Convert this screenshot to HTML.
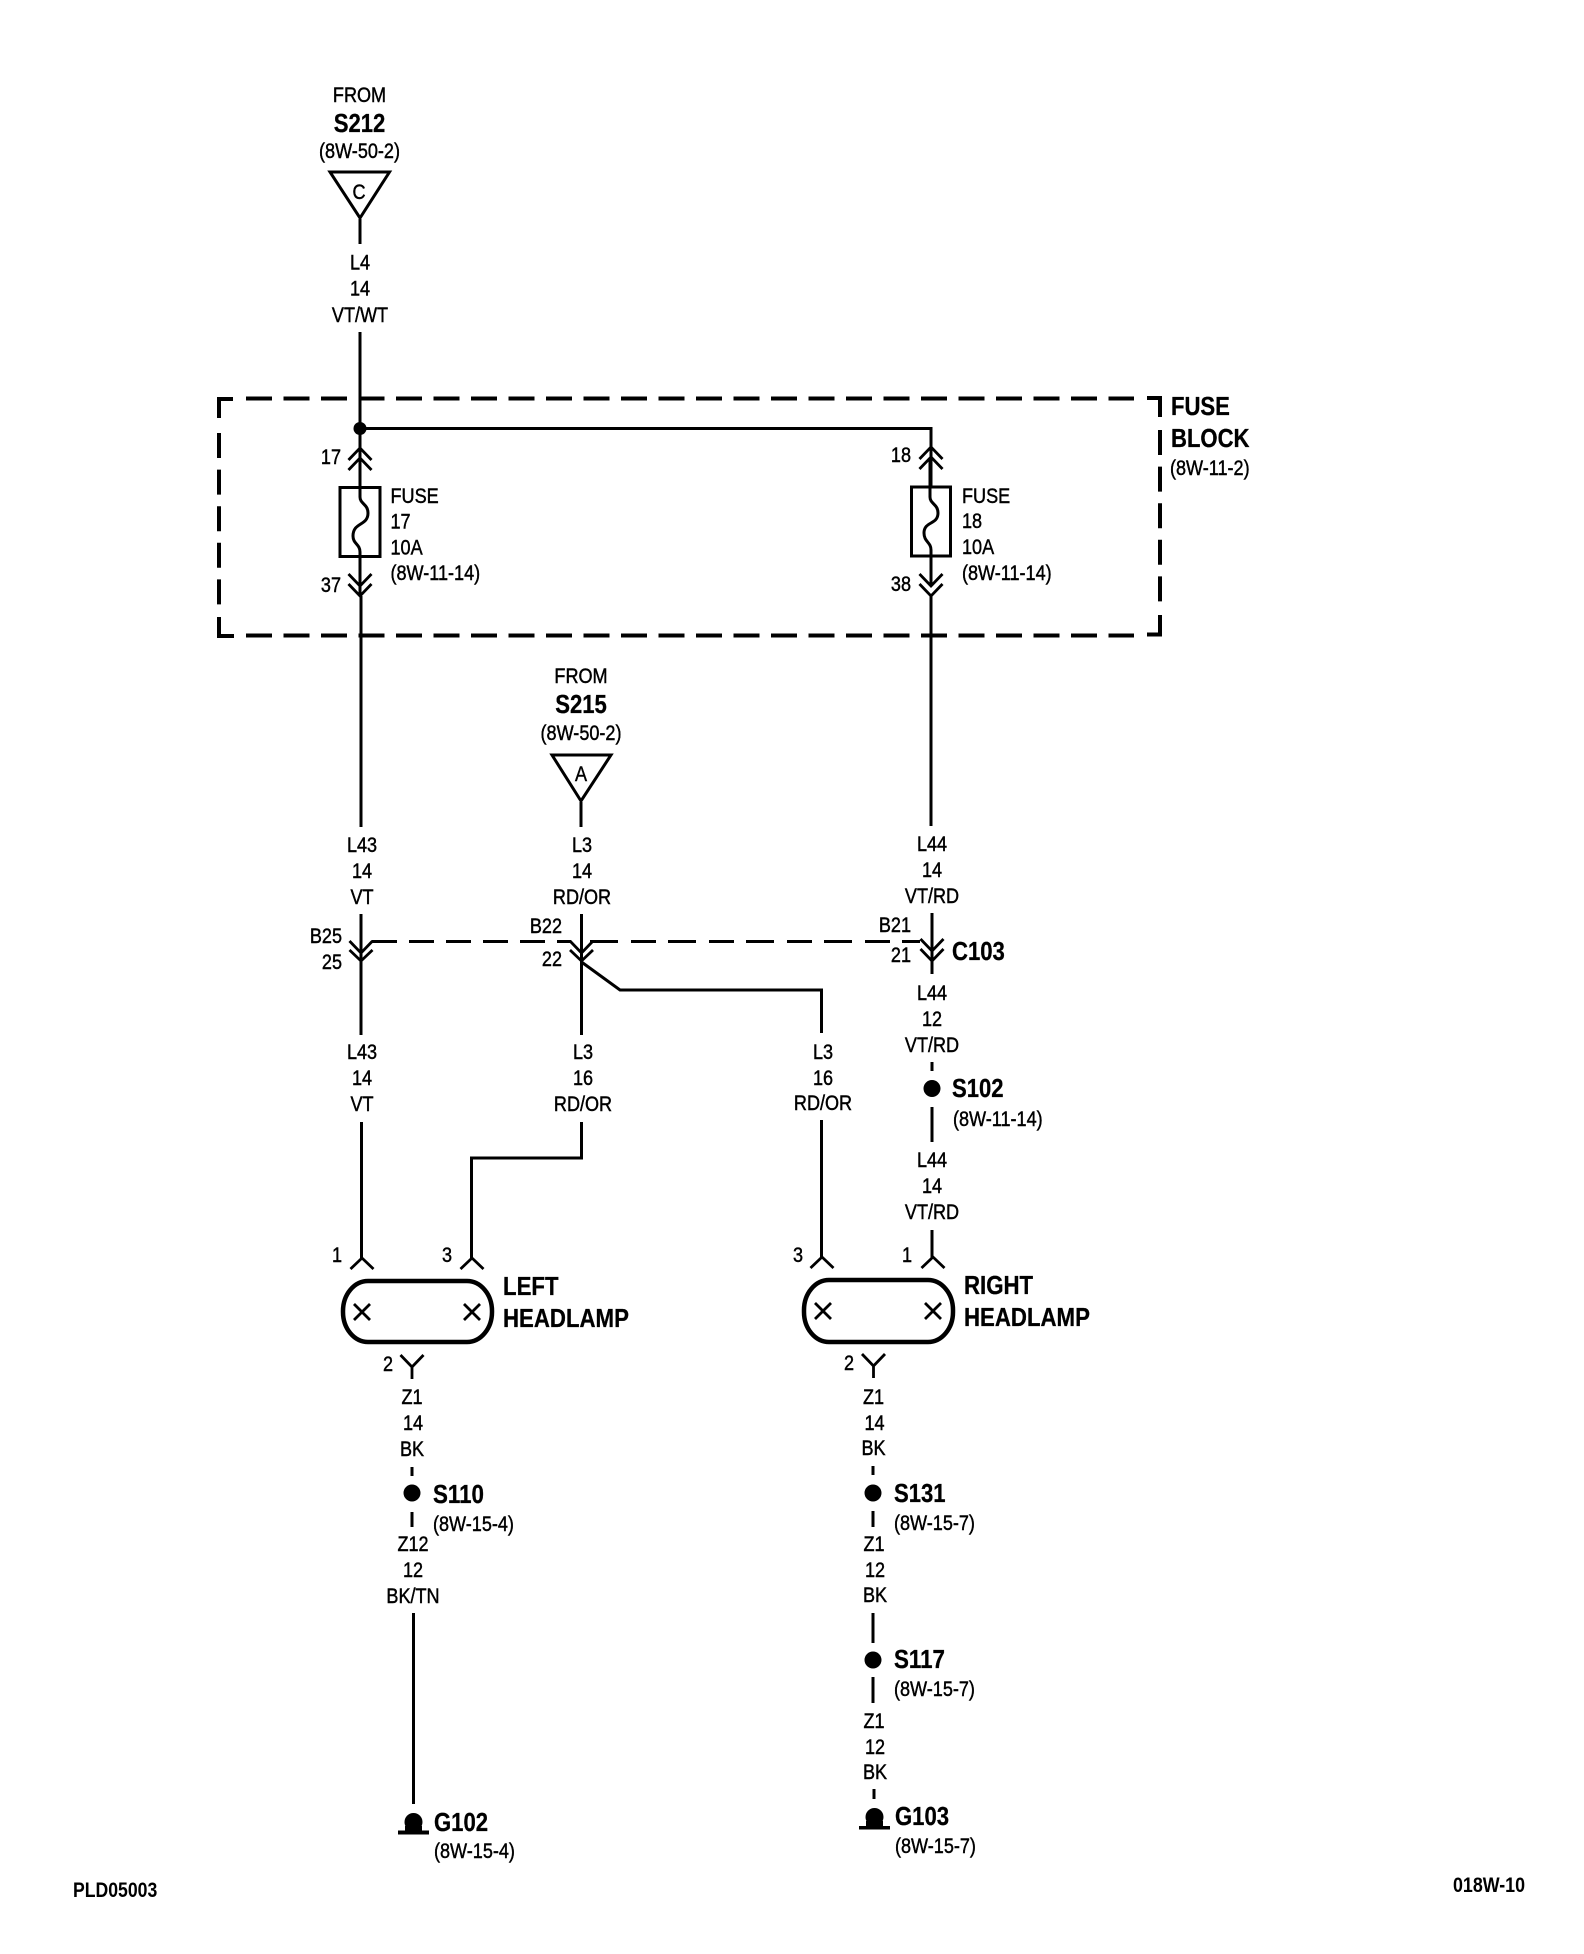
<!DOCTYPE html>
<html><head><meta charset="utf-8"><title>Headlamp wiring diagram</title>
<style>
html,body{margin:0;padding:0;background:#fff}
svg{display:block}
text{font-family:"Liberation Sans",sans-serif;fill:#000}
.r{font-size:21px;stroke:#000;stroke-width:.45}
.b{font-size:26px;font-weight:bold;stroke:#000;stroke-width:.3}
.f{font-size:21px;font-weight:bold}
.m{text-anchor:middle}
.e{text-anchor:end}
.w{fill:none;stroke:#000;stroke-width:3}
.t{fill:none;stroke:#000;stroke-width:2.8}
.d{fill:none;stroke:#000;stroke-width:4;stroke-dasharray:26 11.5}
.dd{fill:none;stroke:#000;stroke-width:4;stroke-dasharray:25 11.6}
.c{fill:none;stroke:#000;stroke-width:3}
</style></head><body>
<svg xmlns="http://www.w3.org/2000/svg" width="1584" height="1954" viewBox="0 0 1584 1954">
<rect width="1584" height="1954" fill="#fff"/>

<!-- fuse block box -->
<path class="w" style="stroke-width:4" d="M233 399H219V418M219 617V636H234M1147 398H1160V417M1160 615V634.500H1147"/>
<path class="d" d="M246 398.500H1134"/>
<path class="d" d="M246 635.500H1134"/>
<path class="dd" d="M219 433V606"/>
<path class="dd" d="M1160 430V604"/>

<!-- top wires -->
<path class="c" d="M330 172H389.500L360 218Z"/>
<path class="w" d="M360 219V244M360 332V596M361 596V827"/>
<circle cx="360" cy="428.500" r="6.500"/>
<path class="w" d="M360 428.500H931V487"/>
<!-- fuse 17 -->
<path class="t" d="M348.500 460L360 448L371.500 460M348.500 470L360 458L371.500 470"/>
<rect x="340" y="487.500" width="40" height="69" fill="#fff" stroke="#000" stroke-width="3"/>
<path class="w" d="M360 470V497C360 504 368 504 368 513C368 526 353 522 353 536C353 544 360 544 360 552V586"/>
<path class="t" d="M348.500 574L360 586L371.500 574M348.500 584L360 596L371.500 584"/>
<!-- fuse 18 -->
<path class="t" d="M919.500 459L931 447L942.500 459M919.500 469L931 457L942.500 469"/>
<rect x="911.500" y="487" width="39" height="69" fill="#fff" stroke="#000" stroke-width="3"/>
<path class="w" d="M930 458V497C930 504 938 504 938 513C938 525 924 521 924 533C924 542 931 542 931 550V586"/>
<path class="t" d="M919.500 574L931 586L942.500 574M919.500 584L931 596L942.500 584"/>
<path class="w" d="M931 596V826"/>

<!-- S215 -->
<path class="c" d="M552 755H611L581 801Z"/>
<path class="w" d="M581 802V827"/>

<!-- C103 connector -->
<path class="w" d="M361 914V953M361 951V1035"/>
<path class="t" d="M349.500 941L361 953L372.500 941M349.500 950L361 961L372.500 950"/>
<path class="w" d="M581.500 914V1035"/>
<path class="t" d="M570 941L581.500 953L593 941M570 950L581.500 961L593 950"/>
<path class="w" d="M581.500 962L620 990H821.500V1033"/>
<path class="w" d="M932 913V974"/>
<path class="t" d="M920.500 939L932 951L943.500 939M920.500 949L932 961L943.500 949"/>
<path class="w" style="stroke-dasharray:25 12" d="M372 941.500H571"/>
<path class="w" style="stroke-dasharray:28 13 25 12" d="M590 941.500H920"/>

<!-- S102 -->
<path class="w" d="M932 1062V1071M932 1107V1142M932 1230V1258"/>
<circle cx="932" cy="1088.500" r="8.500"/>

<!-- lower wires -->
<path class="w" d="M361.500 1122V1258"/>
<path class="w" d="M581.500 1122V1158H471.500V1258"/>
<path class="w" d="M821.500 1120V1258"/>
<path class="t" d="M350.500 1269L362 1258L373.500 1269M460.500 1269L472 1258L483.500 1269M810.500 1268L822 1257L833.500 1268M921.500 1268L933 1257L944.500 1268"/>

<!-- lamps -->
<rect x="343" y="1281" width="149" height="61" rx="25" ry="30" fill="none" stroke="#000" stroke-width="4.500"/>
<rect x="804" y="1280" width="149" height="62" rx="25" ry="30" fill="none" stroke="#000" stroke-width="4.500"/>
<path class="t" d="M354 1304L370 1320M370 1304L354 1320M464 1304L480 1320M480 1304L464 1320M815 1303L831 1319M831 1303L815 1319M925 1303L941 1319M941 1303L925 1319"/>

<!-- bottom pins -->
<path class="t" d="M400.500 1355L412 1367L423.500 1355M412 1367V1379M862 1354L873.500 1366L885 1354M873.500 1366V1378"/>

<!-- left ground chain -->
<path class="w" d="M412 1467V1476M412 1512V1527M413.500 1613V1804"/>
<circle cx="412" cy="1493" r="8.500"/>
<circle cx="413.500" cy="1822" r="9"/>
<path d="M398 1834.500V1830.500H405V1826H422V1830.500H429V1834.500Z"/>

<!-- right ground chain -->
<path class="w" d="M873 1466V1475M873 1511V1527M873 1613V1643M873 1677V1703M874 1789V1799"/>
<circle cx="873" cy="1493" r="8.500"/>
<circle cx="873" cy="1660" r="8.500"/>
<circle cx="874.500" cy="1817" r="9"/>
<path d="M859 1829.500V1826H866V1821H883V1826H890V1829.500Z"/>

<g transform="translate(0 -1)">
<!-- labels top -->
<text class="r m" transform="translate(359.500 103) scale(.86 1)">FROM</text>
<text class="b m" transform="translate(359.500 133) scale(.85 1)">S212</text>
<text class="r m" transform="translate(359.500 159) scale(.86 1)">(8W-50-2)</text>
<text class="r m" transform="translate(359 200) scale(.86 1)">C</text>
<text class="r m" transform="translate(360 270.500) scale(.86 1)">L4</text>
<text class="r m" transform="translate(360 296.500) scale(.86 1)">14</text>
<text class="r m" transform="translate(360 323) scale(.86 1)">VT/WT</text>

<text class="r e" transform="translate(341 465) scale(.86 1)">17</text>
<text class="r e" transform="translate(341 593) scale(.86 1)">37</text>
<text class="r" transform="translate(390.500 504) scale(.86 1)">FUSE</text>
<text class="r" transform="translate(390.500 529.500) scale(.86 1)">17</text>
<text class="r" transform="translate(390.500 555.500) scale(.86 1)">10A</text>
<text class="r" transform="translate(390.500 581) scale(.86 1)">(8W-11-14)</text>

<text class="r e" transform="translate(911 463) scale(.86 1)">18</text>
<text class="r e" transform="translate(911 592) scale(.86 1)">38</text>
<text class="r" transform="translate(962 504) scale(.86 1)">FUSE</text>
<text class="r" transform="translate(962 529) scale(.86 1)">18</text>
<text class="r" transform="translate(962 555) scale(.86 1)">10A</text>
<text class="r" transform="translate(962 581) scale(.86 1)">(8W-11-14)</text>

<text class="b" transform="translate(1171 416) scale(.85 1)">FUSE</text>
<text class="b" transform="translate(1171 448) scale(.85 1)">BLOCK</text>
<text class="r" transform="translate(1170 476) scale(.86 1)">(8W-11-2)</text>

<text class="r m" transform="translate(581 684) scale(.86 1)">FROM</text>
<text class="b m" transform="translate(581 714) scale(.85 1)">S215</text>
<text class="r m" transform="translate(581 741) scale(.86 1)">(8W-50-2)</text>
<text class="r m" transform="translate(581 782) scale(.86 1)">A</text>

<!-- wire labels upper row -->
<text class="r m" transform="translate(362 853) scale(.86 1)">L43</text>
<text class="r m" transform="translate(362 879) scale(.86 1)">14</text>
<text class="r m" transform="translate(362 905) scale(.86 1)">VT</text>
<text class="r m" transform="translate(582 853) scale(.86 1)">L3</text>
<text class="r m" transform="translate(582 879) scale(.86 1)">14</text>
<text class="r m" transform="translate(582 905) scale(.86 1)">RD/OR</text>
<text class="r m" transform="translate(932 852) scale(.86 1)">L44</text>
<text class="r m" transform="translate(932 878) scale(.86 1)">14</text>
<text class="r m" transform="translate(932 904) scale(.86 1)">VT/RD</text>

<!-- connector labels -->
<text class="r e" transform="translate(342 944) scale(.86 1)">B25</text>
<text class="r e" transform="translate(342 970) scale(.86 1)">25</text>
<text class="r e" transform="translate(562 934) scale(.86 1)">B22</text>
<text class="r e" transform="translate(562 967) scale(.86 1)">22</text>
<text class="r e" transform="translate(911 933) scale(.86 1)">B21</text>
<text class="r e" transform="translate(911 963) scale(.86 1)">21</text>
<text class="b" transform="translate(952 961) scale(.85 1)">C103</text>

<text class="r m" transform="translate(932 1001) scale(.86 1)">L44</text>
<text class="r m" transform="translate(932 1027) scale(.86 1)">12</text>
<text class="r m" transform="translate(932 1053) scale(.86 1)">VT/RD</text>
<text class="b" transform="translate(952 1098) scale(.85 1)">S102</text>
<text class="r" transform="translate(953 1127) scale(.86 1)">(8W-11-14)</text>
<text class="r m" transform="translate(932 1168) scale(.86 1)">L44</text>
<text class="r m" transform="translate(932 1194) scale(.86 1)">14</text>
<text class="r m" transform="translate(932 1220) scale(.86 1)">VT/RD</text>

<!-- wire labels lower row -->
<text class="r m" transform="translate(362 1060) scale(.86 1)">L43</text>
<text class="r m" transform="translate(362 1086) scale(.86 1)">14</text>
<text class="r m" transform="translate(362 1112) scale(.86 1)">VT</text>
<text class="r m" transform="translate(583 1060) scale(.86 1)">L3</text>
<text class="r m" transform="translate(583 1086) scale(.86 1)">16</text>
<text class="r m" transform="translate(583 1112) scale(.86 1)">RD/OR</text>
<text class="r m" transform="translate(823 1060) scale(.86 1)">L3</text>
<text class="r m" transform="translate(823 1086) scale(.86 1)">16</text>
<text class="r m" transform="translate(823 1111) scale(.86 1)">RD/OR</text>

<!-- pin numbers -->
<text class="r e" transform="translate(342 1263) scale(.86 1)">1</text>
<text class="r e" transform="translate(452 1263) scale(.86 1)">3</text>
<text class="r e" transform="translate(803 1263) scale(.86 1)">3</text>
<text class="r e" transform="translate(912 1263) scale(.86 1)">1</text>
<text class="r e" transform="translate(393 1372) scale(.86 1)">2</text>
<text class="r e" transform="translate(854 1371) scale(.86 1)">2</text>

<text class="b" transform="translate(503 1296) scale(.855 1)">LEFT</text>
<text class="b" transform="translate(503 1328) scale(.855 1)">HEADLAMP</text>
<text class="b" transform="translate(964 1295) scale(.855 1)">RIGHT</text>
<text class="b" transform="translate(964 1327) scale(.855 1)">HEADLAMP</text>

<!-- left chain labels -->
<text class="r m" transform="translate(412 1405) scale(.86 1)">Z1</text>
<text class="r m" transform="translate(413 1431) scale(.86 1)">14</text>
<text class="r m" transform="translate(412 1457) scale(.86 1)">BK</text>
<text class="b" transform="translate(433 1504) scale(.86 1)">S110</text>
<text class="r" transform="translate(433 1532) scale(.86 1)">(8W-15-4)</text>
<text class="r m" transform="translate(413 1552) scale(.86 1)">Z12</text>
<text class="r m" transform="translate(413 1578) scale(.86 1)">12</text>
<text class="r m" transform="translate(413 1604) scale(.86 1)">BK/TN</text>
<text class="b" transform="translate(434 1832) scale(.85 1)">G102</text>
<text class="r" transform="translate(434 1859) scale(.86 1)">(8W-15-4)</text>

<!-- right chain labels -->
<text class="r m" transform="translate(873.500 1405) scale(.86 1)">Z1</text>
<text class="r m" transform="translate(874.500 1431) scale(.86 1)">14</text>
<text class="r m" transform="translate(873.500 1456) scale(.86 1)">BK</text>
<text class="b" transform="translate(894 1503) scale(.85 1)">S131</text>
<text class="r" transform="translate(894 1531) scale(.86 1)">(8W-15-7)</text>
<text class="r m" transform="translate(874 1552) scale(.86 1)">Z1</text>
<text class="r m" transform="translate(875 1578) scale(.86 1)">12</text>
<text class="r m" transform="translate(875 1603) scale(.86 1)">BK</text>
<text class="b" transform="translate(894 1669) scale(.86 1)">S117</text>
<text class="r" transform="translate(894 1697) scale(.86 1)">(8W-15-7)</text>
<text class="r m" transform="translate(874 1729) scale(.86 1)">Z1</text>
<text class="r m" transform="translate(875 1755) scale(.86 1)">12</text>
<text class="r m" transform="translate(875 1780) scale(.86 1)">BK</text>
<text class="b" transform="translate(895 1826) scale(.85 1)">G103</text>
<text class="r" transform="translate(895 1854) scale(.86 1)">(8W-15-7)</text>
</g>

<!-- footer -->
<text class="f" transform="translate(73 1897) scale(.84 1)">PLD05003</text>
<text class="f" transform="translate(1453 1892) scale(.85 1)">018W-10</text>
</svg>
</body></html>
